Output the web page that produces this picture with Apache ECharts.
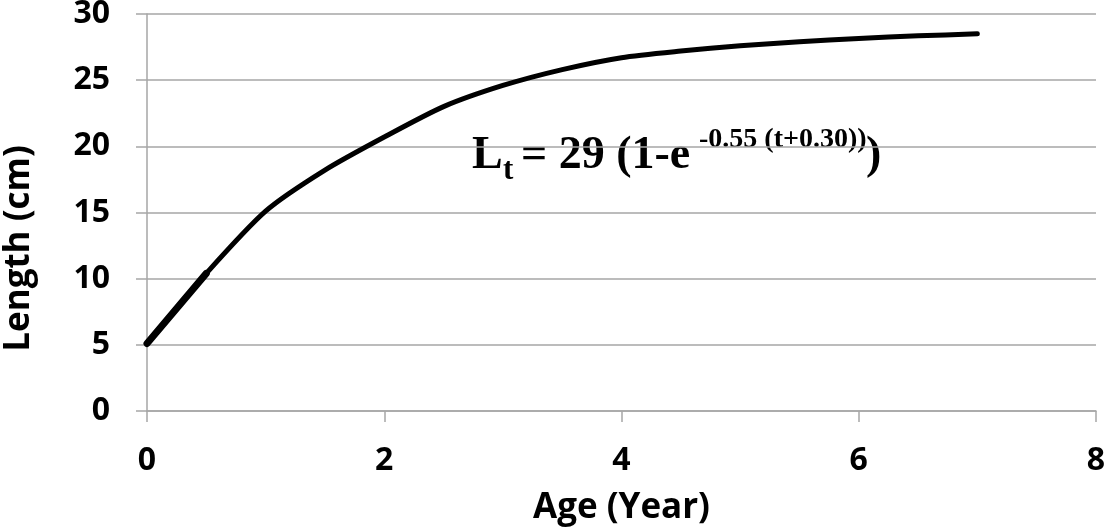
<!DOCTYPE html>
<html><head><meta charset="utf-8">
<script src="https://cdn.jsdelivr.net/npm/echarts@6/dist/echarts.min.js"></script>
<style>html,body{margin:0;padding:0;background:#fff}#c{width:1105px;height:530px}</style>
</head><body><div id="c"></div>
<script>
const ages = [0, 0.5, 1, 1.5, 2, 2.5, 3, 3.5, 4, 4.5, 5, 5.5, 6, 6.5, 7];
const lengths = [5.1, 10.4, 15.1, 18.2, 20.7, 23.0, 24.6, 25.8, 26.7, 27.2, 27.6, 27.9, 28.15, 28.35, 28.5];
const xTicks = [0, 2, 4, 6, 8];
const yTicks = [0, 5, 10, 15, 20, 25, 30];

const chart = echarts.init(document.getElementById('c'), null, {renderer: 'canvas'});
const pts = ages.map((a, i) => [a, lengths[i]]);
const axisFont = {fontFamily: 'Open Sans', fontWeight: 'bold', fontSize: 32, color: '#000'};
const titleFont = {fontFamily: 'Open Sans', fontWeight: 'bold', fontSize: 35, color: '#000'};
const serif = 'Liberation Serif';
function eq(x, y, text, size) {
  return {type: 'text', x: x, y: y, silent: true,
    style: {text: text, fontFamily: serif, fontWeight: 'bold', fontSize: size, fill: '#000', verticalAlign: 'middle'}};
}
chart.setOption({
  animation: false,
  grid: {left: 147, right: 9, top: 14, bottom: 119, containLabel: false, outerBoundsMode: 'none'},
  xAxis: {
    type: 'value', min: xTicks[0], max: xTicks[xTicks.length - 1], interval: 2,
    name: 'Age (Year)', nameLocation: 'middle', nameGap: 80,
    nameTextStyle: titleFont,
    axisLine: {show: true, lineStyle: {color: '#a6a6a6', width: 1.5}},
    axisTick: {show: true, length: 11, lineStyle: {color: '#a6a6a6', width: 1.5}},
    axisLabel: Object.assign({margin: 34}, axisFont),
    splitLine: {show: false}
  },
  yAxis: {
    type: 'value', min: yTicks[0], max: yTicks[yTicks.length - 1], interval: 5,
    name: 'Length (cm)', nameLocation: 'middle', nameGap: 110,
    nameTextStyle: Object.assign({padding: [0, 72, 0, 0]}, titleFont),
    axisLine: {show: true, lineStyle: {color: '#a6a6a6', width: 1.5}},
    axisTick: {show: true, length: 11, lineStyle: {color: '#a6a6a6', width: 1.5}},
    axisLabel: Object.assign({margin: 37}, axisFont),
    splitLine: {show: true, lineStyle: {color: '#a6a6a6', width: 1.5}}
  },
  series: [
    {type: 'line', data: pts, smooth: 0.25, symbol: 'none',
     lineStyle: {color: '#000', width: 5, cap: 'round', join: 'round'}},
    {type: 'line', data: pts.slice(0, 2), symbol: 'none',
     lineStyle: {color: '#000', width: 7, cap: 'round'}}
  ],
  graphic: [
    eq(472, 156, 'L', 46),
    eq(503, 171, 't', 31),
    eq(521, 156, '= 29 (1-e', 46),
    eq(699, 140, '-0.55 (t+0.30))', 28),
    eq(866, 156, ')', 46)
  ]
});
</script></body></html>
